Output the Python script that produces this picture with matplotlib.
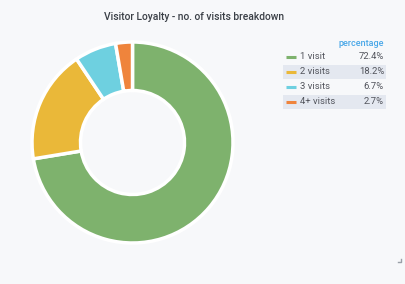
import matplotlib.pyplot as plt
from matplotlib.patches import Rectangle

# dane
labels = ["1 visit", "2 visits", "3 visits", "4+ visits"]
values = [72.4, 18.2, 6.7, 2.7]
colors = ["#7eb26d", "#eab839", "#6ed0e0", "#ef843c"]

W, H = 406, 284
bg = "#f7f8fa"

fig = plt.figure(figsize=(W / 100, H / 100), dpi=100, facecolor=bg)
ax = fig.add_axes([0, 0, 1, 1])

def py(y):
    return H - y

ax.pie(values, colors=colors, startangle=90, counterclock=False,
       center=(132.5, py(142.5)), radius=100.5, frame=True,
       wedgeprops=dict(width=48.5, edgecolor="white", linewidth=2.5))
ax.set_xlim(0, W)
ax.set_ylim(0, H)
ax.set_aspect("equal")
ax.axis("off")

ax.text(194, py(17), "Visitor Loyalty - no. of visits breakdown",
        ha="center", va="center", fontsize=7.4, color="#3a3f46", family="Roboto",
        fontweight="medium")

# legenda jako tabela
ax.text(384, py(44), "percentage", ha="right", va="center", fontsize=6.5,
        color="#4aa8e8", family="Roboto", fontweight="medium")
row_y = [57, 72, 87, 102]
for i, (lab, val, c) in enumerate(zip(labels, values, colors)):
    y = row_y[i]
    if i % 2 == 1:
        ax.add_patch(Rectangle((283, py(y + 7)), 103, 14, facecolor="#e4e8f0",
                               edgecolor="none"))
    ax.plot([286, 296], [py(y), py(y)], color=c, lw=2.2, solid_capstyle="butt")
    ax.text(300, py(y), lab, ha="left", va="center", fontsize=6.8,
            color="#52545c", family="Roboto")
    ax.text(384, py(y), f"{val}%", ha="right", va="center", fontsize=6.8,
            color="#52545c", family="Roboto")

# uchwyt zmiany rozmiaru
ax.plot([398, 401, 401], [py(262), py(262), py(259)], color="#9aa0a8", lw=1)

fig.savefig("out.png", dpi=100, facecolor=bg)
